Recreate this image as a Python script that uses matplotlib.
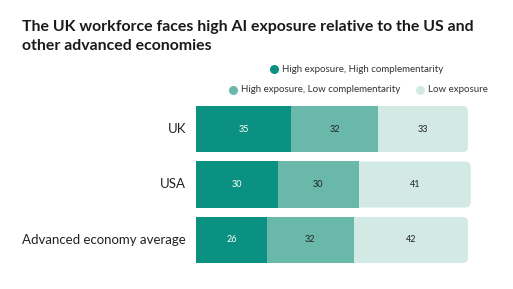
import matplotlib.pyplot as plt
from matplotlib.patches import FancyBboxPatch
from matplotlib.lines import Line2D

# Data
categories = ["UK", "USA", "Advanced economy average"]
high_high = [35, 30, 26]
high_low = [32, 30, 32]
low_exp = [33, 41, 42]
series_names = ["High exposure, High complementarity",
                "High exposure, Low complementarity",
                "Low exposure"]

colors = ["#0b9181", "#6ab8aa", "#d2e9e4"]
W, H = 513, 289

plt.rcParams["font.family"] = ["Lato", "DejaVu Sans"]

fig = plt.figure(figsize=(W / 100, H / 100), dpi=100)
fig.patch.set_facecolor("white")

# axes placed so that x=0 sits at px 196 and 100 units span ~272 px
px_per_unit = 2.72
xmax = 105
ax = fig.add_axes([196 / W, 1 - 267.75 / H, xmax * px_per_unit / W, 166.5 / H])
ax.set_xlim(0, xmax)
ax.set_ylim(2.5, -0.5)
ax.axis("off")

ys = list(range(len(categories)))
bar_h = 0.83
aspect = px_per_unit / 55.5

for y, a, b, c in zip(ys, high_high, high_low, low_exp):
    total = a + b + c
    # rounded box for the whole bar, square left end is covered by segments
    box = FancyBboxPatch((0, y - bar_h / 2), total, bar_h,
                         boxstyle="round,pad=0,rounding_size=2.0",
                         mutation_aspect=aspect,
                         facecolor=colors[2], edgecolor="none")
    ax.add_patch(box)

ax.barh(ys, high_high, height=bar_h, color=colors[0], edgecolor="none")
ax.barh(ys, high_low, left=high_high, height=bar_h, color=colors[1], edgecolor="none")

for y, a, b, c in zip(ys, high_high, high_low, low_exp):
    ax.text(a / 2, y, f"{a}", ha="center", va="center", color="white", fontsize=6.5)
    ax.text(a + b / 2, y, f"{b}", ha="center", va="center", color="#222222", fontsize=6.5)
    ax.text(a + b + c / 2, y, f"{c}", ha="center", va="center", color="#222222", fontsize=6.5)

for y, name in zip(ys, categories):
    ax.text(-10 / px_per_unit, y, name, ha="right", va="center", fontsize=9.5, color="#222222")

# Title
fig.text(22 / W, 1 - 20 / H, "The UK workforce faces high AI exposure relative to the US and\nother advanced economies",
         ha="left", va="top", fontsize=11.4, fontweight="bold", color="#1a1a1a",
         linespacing=1.45)

# Legend, drawn by hand (two right-aligned rows)
legend_items = [(274, 69, series_names[0], colors[0]),
                (233, 90, series_names[1], colors[1]),
                (420, 90, series_names[2], colors[2])]
for x, y, label, col in legend_items:
    fig.add_artist(Line2D([x / W], [1 - y / H], marker="o", markersize=6.5,
                          markerfacecolor=col, markeredgecolor="none",
                          transform=fig.transFigure))
    fig.text((x + 8) / W, 1 - y / H, label, ha="left", va="center",
             fontsize=7.0, color="#333333")

fig.savefig("out.png", dpi=100)
